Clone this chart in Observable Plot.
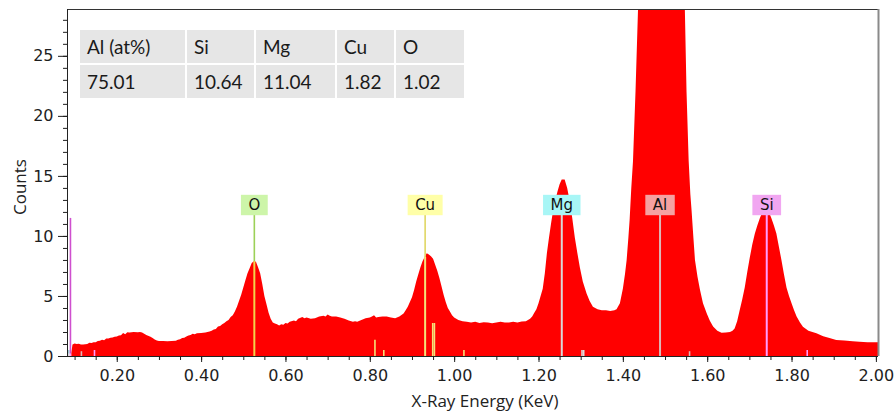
<!DOCTYPE html>
<html>
<head>
<meta charset="utf-8">
<script src="https://cdn.jsdelivr.net/npm/d3@7"></script>
<script src="https://cdn.jsdelivr.net/npm/@observablehq/plot@0.6"></script>
<style>
  body { margin: 0; background: #fff; }
  #wrap { position: relative; width: 895px; height: 416px; overflow: hidden; }
  #comp {
    position: absolute; left: 80px; top: 30px;
    display: grid; grid-template-columns: 105px 67px 79px 57px 68px;
    grid-auto-rows: 33px; gap: 2px; background: #fff;
    font-family: Lato, "Open Sans", sans-serif; font-size: 19px; color: #1a1a1a;
  }
  #comp div { background: #e6e6e6; padding-left: 7px; display: flex; align-items: center; }
</style>
</head>
<body>
<div id="wrap"></div>
<script>
// EDS spectrum: energy (keV) and counts
const energy = [
  0.092, 0.095, 0.100, 0.105, 0.110, 0.115, 0.120, 0.125, 0.130, 0.135, 0.140, 0.145, 0.150, 0.155, 0.160, 0.165,
  0.170, 0.175, 0.180, 0.185, 0.190, 0.195, 0.200, 0.205, 0.210, 0.215, 0.220, 0.225, 0.230, 0.240, 0.250, 0.255,
  0.260, 0.265, 0.270, 0.280, 0.285, 0.290, 0.295, 0.300, 0.310, 0.320, 0.330, 0.340, 0.345, 0.350, 0.355, 0.360,
  0.365, 0.370, 0.375, 0.380, 0.385, 0.390, 0.400, 0.410, 0.415, 0.420, 0.425, 0.430, 0.435, 0.440, 0.445, 0.450,
  0.455, 0.460, 0.465, 0.470, 0.475, 0.480, 0.485, 0.490, 0.495, 0.500, 0.505, 0.510, 0.515, 0.520, 0.525, 0.530,
  0.535, 0.540, 0.545, 0.550, 0.555, 0.560, 0.565, 0.570, 0.575, 0.580, 0.585, 0.590, 0.595, 0.600, 0.605, 0.610,
  0.620, 0.625, 0.630, 0.640, 0.645, 0.650, 0.660, 0.670, 0.680, 0.690, 0.695, 0.700, 0.705, 0.710, 0.720, 0.730,
  0.740, 0.750, 0.760, 0.765, 0.770, 0.780, 0.790, 0.800, 0.805, 0.810, 0.815, 0.820, 0.830, 0.840, 0.850, 0.860,
  0.870, 0.880, 0.885, 0.890, 0.895, 0.900, 0.905, 0.910, 0.915, 0.920, 0.925, 0.930, 0.935, 0.940, 0.945, 0.950,
  0.955, 0.960, 0.965, 0.970, 0.975, 0.980, 0.985, 0.990, 0.995, 1.000, 1.010, 1.020, 1.030, 1.040, 1.050, 1.060,
  1.070, 1.080, 1.090, 1.100, 1.110, 1.120, 1.130, 1.140, 1.150, 1.160, 1.170, 1.175, 1.180, 1.185, 1.190, 1.195,
  1.200, 1.205, 1.210, 1.215, 1.220, 1.225, 1.230, 1.235, 1.240, 1.245, 1.250, 1.255, 1.262, 1.268, 1.274, 1.280,
  1.286, 1.292, 1.298, 1.305, 1.314, 1.321, 1.329, 1.340, 1.350, 1.360, 1.370, 1.380, 1.385, 1.393, 1.400, 1.405,
  1.409, 1.413, 1.416, 1.420, 1.424, 1.430, 1.436, 1.445, 1.460, 1.475, 1.4915, 1.508, 1.523, 1.538, 1.547, 1.551,
  1.556, 1.560, 1.563, 1.567, 1.571, 1.577, 1.583, 1.590, 1.599, 1.606, 1.614, 1.624, 1.634, 1.644, 1.654, 1.660,
  1.665, 1.671, 1.677, 1.683, 1.689, 1.695, 1.701, 1.707, 1.713, 1.719, 1.725, 1.731, 1.738, 1.745, 1.752, 1.758,
  1.764, 1.770, 1.776, 1.782, 1.788, 1.794, 1.800, 1.806, 1.812, 1.820, 1.827, 1.840, 1.859, 1.875, 1.890, 1.906,
  1.925, 1.945, 1.961, 1.980, 2.005
];
const counts = [
  0.20, 0.95, 1.05, 1.00, 1.02, 0.95, 0.95, 0.98, 1.00, 1.10, 1.08, 1.15, 1.15, 1.25, 1.28, 1.35,
  1.32, 1.45, 1.45, 1.52, 1.55, 1.60, 1.62, 1.70, 1.72, 1.92, 1.82, 1.98, 1.95, 2.00, 1.98, 2.00,
  1.95, 1.85, 1.75, 1.60, 1.50, 1.38, 1.30, 1.25, 1.24, 1.22, 1.24, 1.28, 1.35, 1.40, 1.50, 1.52,
  1.62, 1.70, 1.75, 1.85, 1.82, 1.90, 1.92, 1.95, 2.00, 2.05, 2.10, 2.20, 2.25, 2.45, 2.50, 2.65,
  2.75, 2.90, 3.00, 3.25, 3.40, 3.70, 4.10, 4.60, 5.10, 5.70, 6.30, 6.90, 7.30, 7.75, 7.90, 7.85,
  7.40, 6.90, 6.00, 5.00, 4.30, 3.60, 3.10, 2.80, 2.70, 2.65, 2.55, 2.65, 2.60, 2.75, 2.70, 2.85,
  2.95, 2.90, 3.10, 3.25, 3.15, 3.20, 3.10, 3.15, 3.30, 3.35, 3.30, 3.45, 3.35, 3.30, 3.30, 3.20,
  3.10, 2.95, 2.85, 2.90, 2.85, 3.00, 3.15, 3.20, 3.30, 3.40, 3.20, 3.25, 3.30, 3.30, 3.20, 3.15,
  3.30, 3.55, 3.80, 4.10, 4.50, 4.90, 5.50, 6.20, 6.80, 7.40, 7.90, 8.25, 8.55, 8.45, 8.30, 8.10,
  7.60, 7.10, 6.50, 5.80, 5.10, 4.50, 4.00, 3.70, 3.40, 3.20, 3.00, 2.90, 2.85, 2.78, 2.85, 2.75,
  2.82, 2.80, 2.72, 2.78, 2.85, 2.80, 2.78, 2.85, 2.80, 2.88, 2.90, 3.00, 3.10, 3.30, 3.60, 3.90,
  4.40, 5.00, 5.60, 6.90, 8.60, 9.90, 11.10, 12.20, 13.00, 13.70, 14.30, 14.70, 14.70, 14.00, 12.90, 11.50,
  9.90, 8.60, 7.40, 6.20, 5.20, 4.60, 4.10, 3.90, 3.80, 3.82, 3.75, 3.80, 3.90, 4.40, 5.60, 6.80,
  8.00, 9.80, 11.30, 14.00, 16.20, 22.00, 28.90, 42.0, 72.0, 102.0, 118.0, 102.0, 72.0, 42.0, 28.90, 22.00,
  16.30, 13.50, 12.10, 10.00, 8.00, 6.60, 5.50, 4.40, 3.55, 2.95, 2.45, 2.10, 1.93, 1.95, 2.00, 2.10,
  2.30, 2.90, 3.80, 4.70, 5.70, 7.00, 8.20, 9.30, 10.20, 10.90, 11.50, 12.00, 12.40, 12.10, 11.50, 10.90,
  10.20, 9.10, 8.00, 6.80, 5.70, 5.00, 4.40, 3.80, 3.28, 2.80, 2.44, 2.10, 1.89, 1.65, 1.50, 1.33,
  1.30, 1.22, 1.19, 1.15, 1.14
];

// Identified elements (line energy, keV) and composition table
const elements = ["O", "Cu", "Mg", "Al", "Si"];
const elementEnergy = [0.525, 0.930, 1.254, 1.487, 1.740];
const compHeaders = ["Al (at%)", "Si", "Mg", "Cu", "O"];
const compValues = [75.01, 10.64, 11.04, 1.82, 1.02];

// Secondary marker lines: energy, height (counts), family
const markerEnergy = [0.085, 0.089, 0.115, 0.146, 0.811, 0.832, 0.948, 0.952, 1.022, 1.302, 1.306, 1.557, 1.836];
const markerHeight = [0.5, 11.5, 0.4, 0.5, 1.35, 0.5, 2.75, 2.75, 0.5, 0.5, 0.5, 0.4, 0.5];
const markerFamily = ["Mg", "Si", "Al", "Si", "Cu", "Cu", "Cu", "Cu", "Cu", "Mg", "Mg", "Al", "Si"];

// Axis ticks
const xTicks = [0.2, 0.4, 0.6, 0.8, 1.0, 1.2, 1.4, 1.6, 1.8, 2.0];
const yTicks = [0, 5, 10, 15, 20, 25];
const xTitle = "X-Ray Energy (KeV)";
const yTitle = "Counts";

// Styling
const lineAbove = {O: "#9cd158", Cu: "#e0d764", Mg: "#9ecfd6", Al: "#c9a0a0", Si: "#cf4fcf"};
const lineBelow = {O: "#f3d24a", Cu: "#f4e27a", Mg: "#dadada", Al: "#dcb8b8", Si: "#ff9cff"};
const boxFill = {O: "#cdf5a9", Cu: "#ffffa8", Mg: "#a8f6f6", Al: "#f5a1a1", Si: "#f1a6f1"};
const labelCount = 12.6;

const spectrum = energy.map((e, i) => ({energy: e, count: counts[i]}));
const specAt = d3.scaleLinear().domain(energy).range(counts).clamp(true);

const lines = [
  ...elements.map((el, i) => ({family: el, energy: elementEnergy[i], top: labelCount, main: true})),
  ...markerEnergy.map((e, i) => ({family: markerFamily[i], energy: e, top: markerHeight[i], main: false}))
].map(d => ({...d, level: Math.min(d.top, specAt(d.energy))}));

const below = lines.filter(d => d.level > 0);
const above = lines.filter(d => d.top > d.level + 0.05);

const xDomain = [0.082, 2.005];
const yDomain = [0, 28.9];
const xMinor = d3.range(2, 41).map(i => i / 20);
const yMinor = d3.range(0, 29);

const chart = Plot.plot({
  width: 895,
  height: 416,
  marginLeft: 67,
  marginRight: 17,
  marginTop: 9,
  marginBottom: 60,
  x: {domain: xDomain},
  y: {domain: yDomain},
  style: {fontFamily: "'DejaVu Sans', Verdana, sans-serif", fontSize: "16px", color: "#1e1e1e", background: "#fff"},
  marks: [
    Plot.areaY(spectrum, {x: "energy", y: "count", fill: "#ff0000", clip: true}),
    Plot.ruleX(below, {x: "energy", y1: 0, y2: "level", stroke: d => lineBelow[d.family], strokeWidth: d => d.main ? 2 : 1.6}),
    Plot.ruleX(above, {x: "energy", y1: "level", y2: "top", stroke: d => lineAbove[d.family], strokeWidth: 1.6}),
    Plot.ruleY([0], {stroke: "#222"}),
    Plot.ruleY([yDomain[1]], {stroke: "#333"}),
    Plot.ruleX([xDomain[0]], {stroke: "#222"}),
    Plot.ruleX([xDomain[1]], {stroke: "#8a8a8a", strokeWidth: 2}),
    Plot.axisX({ticks: xMinor, tickSize: 4, tickFormat: () => "", label: null}),
    Plot.axisX({ticks: xTicks, tickSize: 6, tickPadding: 7, tickFormat: d3.format(".2f"), label: null}),
    Plot.axisY({ticks: yMinor, tickSize: 4, tickFormat: () => "", label: null}),
    Plot.axisY({ticks: yTicks, tickSize: 9, tickPadding: 5, label: null}),
    Plot.text(elements, {x: (d, i) => elementEnergy[i], y: () => labelCount, text: d => d, fontSize: 15, fill: "#111"}),
    Plot.text([xTitle], {frameAnchor: "bottom", dy: 50, dx: 12, fontFamily: "'Open Sans', sans-serif", fontSize: 17, fill: "#222"}),
    Plot.text([yTitle], {frameAnchor: "left", rotate: -90, dx: -47, dy: 32, fontFamily: "'Open Sans', sans-serif", fontSize: 17, fill: "#222"})
  ]
});

const wrap = document.getElementById("wrap");
wrap.append(chart);

// Coloured boxes behind the element labels
chart.querySelectorAll("text").forEach(t => {
  const name = t.textContent;
  if (!(name in boxFill)) return;
  const b = t.getBBox();
  const r = document.createElementNS("http://www.w3.org/2000/svg", "rect");
  r.setAttribute("x", b.x - 7.5);
  r.setAttribute("y", b.y - 1.2);
  r.setAttribute("width", b.width + 15);
  r.setAttribute("height", b.height + 2.4);
  r.setAttribute("fill", boxFill[name]);
  if (t.getAttribute("transform")) r.setAttribute("transform", t.getAttribute("transform"));
  t.parentNode.insertBefore(r, t);
});

// Composition table
const comp = document.createElement("div");
comp.id = "comp";
compHeaders.forEach(h => { const c = document.createElement("div"); c.textContent = h; comp.append(c); });
compValues.forEach(v => { const c = document.createElement("div"); c.textContent = v.toFixed(2); comp.append(c); });
wrap.append(comp);
</script>
</body>
</html>
